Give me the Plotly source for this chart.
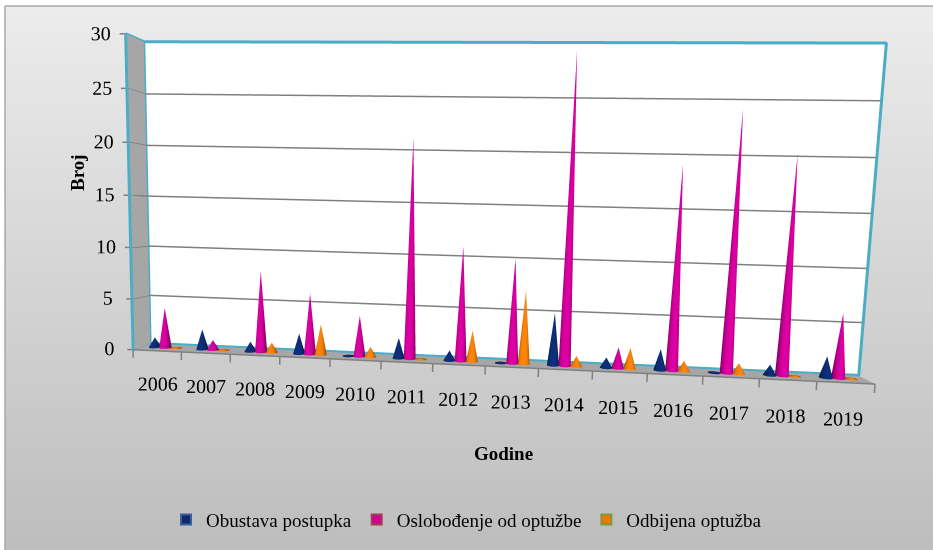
import math
import plotly.graph_objects as go

years = ["2006","2007","2008","2009","2010","2011","2012","2013","2014","2015","2016","2017","2018","2019"]
obustava = [1,2,1,2,0,2,1,0,5,1,2,0,1,2]
oslobodjenje = [4,1,8,6,4,21,11,10,29,2,19,24,20,6]
odbijena = [0,0,1,3,1,0,3,7,1,2,1,1,0,0]
series_names = ["Obustava postupka","Oslobođenje od optužbe","Odbijena optužba"]
series_colors = [(14,46,120),(214,0,158),(250,130,10)]
legend_fill = ["#0b2a6e","#cc0099","#ee7700"]
legend_edges = ["#3a5f9a","#a04050","#7a9a40"]
z_ticks = [0,5,10,15,20,25,30]

AX, AY, AZ = 2.3, 0.1, 1.0
ZMAX = 30
n = len(years)
XR = [-1, n+1]
ZR = [-6, 31]

def shade(rgb, f):
    return "rgb(%d,%d,%d)" % tuple(min(255, int(c*f)) for c in rgb)

def cone(cx, h, rgb, name):
    rx = 0.115
    ry = rx * (AX/n) / (AY/1.0)
    cy = 0.5
    xs, ys, zs, cols = [], [], [], []
    seg = 36
    for k in range(seg):
        t = 2*math.pi*k/seg
        xs.append(cx + rx*math.cos(t)); ys.append(cy + ry*math.sin(t)); zs.append(0.01)
        cols.append(shade(rgb, 0.55 + 0.5*max(0, -math.sin(t))))
    xs.append(cx); ys.append(cy); zs.append(max(h, 0.08)); cols.append(shade(rgb, 1.0))
    i = list(range(seg)); j = [(k+1) % seg for k in range(seg)]; m = [seg]*seg
    return go.Mesh3d(x=xs, y=ys, z=zs, i=i, j=j, k=m, vertexcolor=cols, flatshading=False,
                     lighting=dict(ambient=1, diffuse=0, specular=0), showlegend=False, hoverinfo="skip", name=name)

def wall(xs, ys, zs, color):
    return go.Mesh3d(x=xs, y=ys, z=zs, i=[0,0], j=[1,2], k=[2,3], color=color, flatshading=True,
                     lighting=dict(ambient=1, diffuse=0, specular=0), showlegend=False, hoverinfo="skip")

def lines(xs, ys, zs, color, width):
    return go.Scatter3d(x=xs, y=ys, z=zs, mode="lines", line=dict(color=color, width=width),
                        showlegend=False, hoverinfo="skip")

fig = go.Figure()
fig.add_trace(wall([0,n,n,0],[1,1,1,1],[0,0,ZMAX,ZMAX],"#ffffff"))
fig.add_trace(wall([0,0,0,0],[0,1,1,0],[0,0,ZMAX,ZMAX],"#a6a6a6"))
fig.add_trace(wall([0,n,n,0],[0,0,1,1],[0,0,0,0],"#a6a6a6"))

for s, (vals, col, nm) in enumerate(zip([obustava, oslobodjenje, odbijena], series_colors, series_names)):
    for i, v in enumerate(vals):
        fig.add_trace(cone(i + 0.5 + (s-1)*0.22, v, col, nm))

gx, gy, gz = [], [], []
for v in z_ticks[1:-1]:
    gx += [-0.12, 0, 0, n, None]; gy += [0, 0, 0.98, 0.98, None]; gz += [v, v, v, v, None]
fig.add_trace(lines(gx, gy, gz, "#7f7f7f", 3))
tx, ty, tz = [], [], []
for v in [0, ZMAX]:
    tx += [-0.12, 0, None]; ty += [0, 0, None]; tz += [v, v, None]
for i in range(n+1):
    tx += [i, i, None]; ty += [0, 0, None]; tz += [0, -0.8, None]
tx += [0, n, None]; ty += [0, 0, None]; tz += [0, 0, None]
fig.add_trace(lines(tx, ty, tz, "#808080", 3))

fx = [0, n, n, 0, 0, None, 0, 0, 0, 0]
fy = [0.98, 0.98, 0.98, 0.98, 0.98, None, 0.98, 0, 0, 0.98]
fz = [0.05, 0.05, ZMAX, ZMAX, 0.05, None, ZMAX, ZMAX, 0, 0.05]
fig.add_trace(lines(fx, fy, fz, "#4bacc6", 6))

label_font = dict(family="Liberation Serif", size=20, color="#000000")
fig.add_trace(go.Scatter3d(x=[i+0.5 for i in range(n)], y=[0]*n, z=[-3.3]*n, mode="text", text=years,
                           textfont=label_font, textposition="middle center", showlegend=False, hoverinfo="skip"))
fig.add_trace(go.Scatter3d(x=[-0.5]*len(z_ticks), y=[0]*len(z_ticks), z=z_ticks, mode="text",
                           text=[str(v) for v in z_ticks], textfont=label_font, textposition="middle center",
                           showlegend=False, hoverinfo="skip"))

for nm, col, ed in zip(series_names, legend_fill, legend_edges):
    fig.add_trace(go.Scatter3d(x=[0.5], y=[0.5], z=[-100], mode="markers", name=nm,
                               marker=dict(symbol="square", size=10, color=col, line=dict(color=ed, width=2))))

X0, Y1 = 5/933, 1-6/550
shapes = []
steps = 60
for b in range(steps):
    g = int(236 - (236-190)*b/(steps-1))
    shapes.append(dict(type="rect", xref="paper", yref="paper", x0=X0, x1=1,
                       y0=0, y1=Y1*(1-b/steps), layer="below", line=dict(width=0),
                       fillcolor=f"rgb({g},{g},{g})"))
shapes.append(dict(type="line", xref="paper", yref="paper", x0=X0, x1=1, y0=Y1, y1=Y1, layer="below",
                   line=dict(color="#a8a8a8", width=1.5)))
shapes.append(dict(type="line", xref="paper", yref="paper", x0=X0, x1=X0, y0=0, y1=Y1, layer="below",
                   line=dict(color="#a8a8a8", width=1.5)))

hidden = dict(visible=False, showspikes=False, showbackground=False, showgrid=False, zeroline=False)
center = dict(x=-0.07, y=0, z=-0.14)
rel = dict(x=0.19, y=-2.07, z=0.2)
fig.update_layout(
    width=933, height=550, margin=dict(l=0, r=0, t=0, b=0),
    paper_bgcolor="#ffffff", shapes=shapes,
    font=dict(family="Liberation Serif", color="#000"),
    scene=dict(
        domain=dict(x=[0, 1], y=[0, 1]),
        dragmode="orbit",
        aspectmode="manual",
        aspectratio=dict(x=AX*(XR[1]-XR[0])/n, y=AY, z=AZ*(ZR[1]-ZR[0])/ZMAX),
        bgcolor="rgba(0,0,0,0)",
        xaxis=dict(range=XR, **hidden),
        yaxis=dict(range=[0, 1], **hidden),
        zaxis=dict(range=ZR, **hidden),
        camera=dict(eye=dict(x=center["x"]+rel["x"], y=center["y"]+rel["y"], z=center["z"]+rel["z"]),
                    center=center, up=dict(x=-0.025, y=0, z=1),
                    projection=dict(type="perspective")),
    ),
    legend=dict(orientation="h", x=0.5, xanchor="center", y=0.055, yanchor="middle",
                font=dict(family="Liberation Serif", size=19), bgcolor="rgba(0,0,0,0)"),
    annotations=[
        dict(text="<b>Godine</b>", x=503/933, y=1-453/550, xref="paper", yref="paper", xanchor="center", yanchor="middle",
             showarrow=False, font=dict(size=19)),
        dict(text="<b>Broj</b>", x=77/933, y=1-173/550, xref="paper", yref="paper", xanchor="center", yanchor="middle",
             showarrow=False, textangle=-90, font=dict(size=19)),
    ],
)
fig.write_html("out.html", config=dict(displayModeBar=False),
               post_script="document.body.style.margin='0';document.body.style.overflow='hidden';")
